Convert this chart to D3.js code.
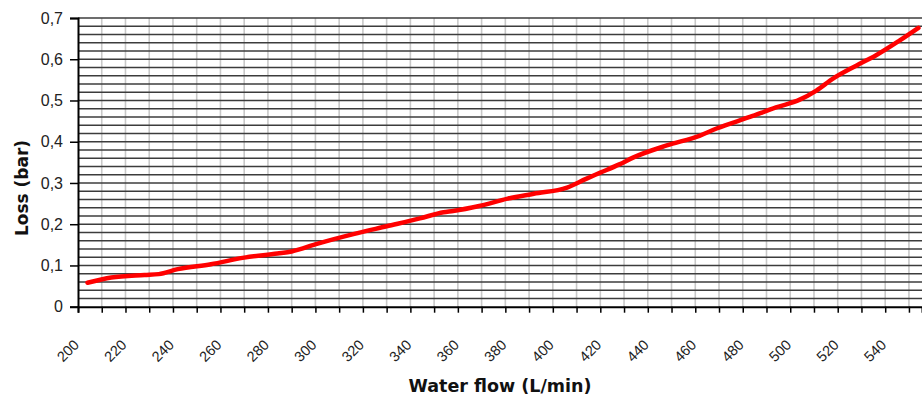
<!DOCTYPE html>
<html>
<head>
<meta charset="utf-8">
<script src="https://cdn.jsdelivr.net/npm/d3@7"></script>
<style>
  html, body { margin: 0; padding: 0; background: #fff; }
  svg { display: block; }
</style>
</head>
<body>
<svg id="chart" width="922" height="401"></svg>
<script>
// ---- data ----
const flow = [204, 214, 228, 234, 242, 256, 270, 284, 290, 301, 316, 330, 344, 354, 358, 369, 381, 392, 406, 414, 420, 428, 434, 448, 462, 469, 483, 494, 504, 511, 518, 528, 536, 546, 554];
const loss = [0.058, 0.071, 0.077, 0.079, 0.091, 0.103, 0.119, 0.129, 0.134, 0.153, 0.176, 0.195, 0.214, 0.229, 0.232, 0.244, 0.262, 0.274, 0.289, 0.310, 0.325, 0.345, 0.362, 0.391, 0.415, 0.432, 0.460, 0.483, 0.502, 0.524, 0.553, 0.585, 0.609, 0.645, 0.676];
const xTickValues = [200, 210, 220, 230, 240, 250, 260, 270, 280, 290, 300, 310, 320, 330, 340, 350, 360, 370, 380, 390, 400, 410, 420, 430, 440, 450, 460, 470, 480, 490, 500, 510, 520, 530, 540, 550];
const xLabels = [200, 220, 240, 260, 280, 300, 320, 340, 360, 380, 400, 420, 440, 460, 480, 500, 520, 540];
const yTickValues = [0, 0.1, 0.2, 0.3, 0.4, 0.5, 0.6, 0.7];
const yLabels = ["0", "0,1", "0,2", "0,3", "0,4", "0,5", "0,6", "0,7"];
const yGridValues = [0.02, 0.04, 0.06, 0.08, 0.1, 0.12, 0.14, 0.16, 0.18, 0.2, 0.22, 0.24, 0.26, 0.28, 0.3, 0.32, 0.34, 0.36, 0.38, 0.4, 0.42, 0.44, 0.46, 0.48, 0.5, 0.52, 0.54, 0.56, 0.58, 0.6, 0.62, 0.64, 0.66, 0.68, 0.7];
const xTitle = "Water flow (L/min)";
const yTitle = "Loss (bar)";

// ---- layout ----
const pLeft = 78, pRight = 922, pTop = 18, pBottom = 306.7;
const svg = d3.select("#chart");
const x = d3.scaleLinear().domain([200, 555.5]).range([pLeft, pRight]);
const y = d3.scaleLinear().domain([0, 0.7]).range([pBottom, pTop]);

// vertical light gridlines
svg.append("g").selectAll("line").data(xTickValues.slice(1)).join("line")
  .attr("x1", d => x(d)).attr("x2", d => x(d))
  .attr("y1", pTop).attr("y2", pBottom)
  .attr("stroke", "#c8c8c8").attr("stroke-width", 1.6);

// horizontal dark gridlines
svg.append("g").selectAll("line").data(yGridValues).join("line")
  .attr("x1", pLeft).attr("x2", pRight)
  .attr("y1", d => y(d)).attr("y2", d => y(d))
  .attr("stroke", "#3c3c3c").attr("stroke-width", 1.5);

// y axis
const yAxis = d3.axisLeft(y).tickValues(yTickValues).tickSize(8).tickPadding(7)
  .tickFormat((d, i) => yLabels[i]);
const gy = svg.append("g").attr("transform", `translate(${pLeft},0)`).call(yAxis);
gy.select(".domain").attr("stroke", "#000").attr("stroke-width", 2);
gy.selectAll(".tick line").attr("stroke", "#000").attr("stroke-width", 1.5);
gy.selectAll(".tick text").attr("font-family", "Liberation Sans, Arial, sans-serif")
  .attr("font-size", 16).attr("fill", "#222");

// x axis
const xAxis = d3.axisBottom(x).tickValues(xTickValues).tickSize(6).tickFormat("");
const gx = svg.append("g").attr("transform", `translate(0,${pBottom})`).call(xAxis);
gx.select(".domain").attr("stroke", "#000").attr("stroke-width", 2);
gx.selectAll(".tick line").attr("stroke", "#000").attr("stroke-width", 1.5);

// rotated x labels
svg.append("g").selectAll("text").data(xLabels).join("text")
  .attr("transform", d => `translate(${x(d) + 2},${pBottom + 39}) rotate(-45)`)
  .attr("text-anchor", "end")
  .attr("font-family", "Liberation Sans, Arial, sans-serif")
  .attr("font-size", 14.5).attr("fill", "#222")
  .text(d => d);

// line
const line = d3.line().x((d, i) => x(flow[i])).y((d, i) => y(loss[i])).curve(d3.curveMonotoneX);
svg.append("path").datum(loss).attr("d", line)
  .attr("fill", "none").attr("stroke", "#ff0000").attr("stroke-width", 4.5)
  .attr("stroke-linecap", "round").attr("stroke-linejoin", "round");

// titles
svg.append("text").attr("x", 500).attr("y", 392).attr("text-anchor", "middle")
  .attr("font-family", "DejaVu Sans, Verdana, sans-serif").attr("font-weight", "bold")
  .attr("font-size", 17.5).attr("fill", "#111").text(xTitle);
svg.append("text").attr("transform", "translate(28,188) rotate(-90)").attr("text-anchor", "middle")
  .attr("font-family", "DejaVu Sans, Verdana, sans-serif").attr("font-weight", "bold")
  .attr("font-size", 17).attr("fill", "#111").text(yTitle);
</script>
</body>
</html>
